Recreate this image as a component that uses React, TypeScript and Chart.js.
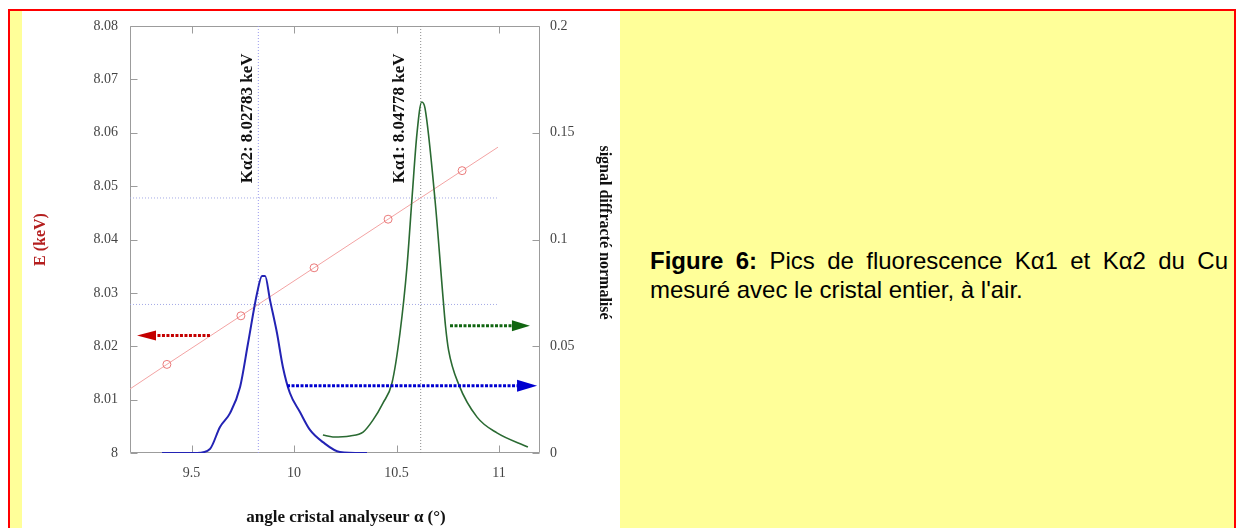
import { useEffect, useRef } from 'react';
import { Chart, registerables } from 'chart.js';

Chart.register(...registerables);

const SERIF = '"Liberation Serif", "Times New Roman", serif';
const SANS = '"Liberation Sans", Arial, sans-serif';

// Axis ticks
const X_TICKS = [9.5, 10, 10.5, 11];
const X_TICK_LABELS = ['9.5', '10', '10.5', '11'];
const E_TICKS = [8, 8.01, 8.02, 8.03, 8.04, 8.05, 8.06, 8.07, 8.08];
const E_TICK_LABELS = ['8', '8.01', '8.02', '8.03', '8.04', '8.05', '8.06', '8.07', '8.08'];
const S_TICKS = [0, 0.05, 0.1, 0.15, 0.2];
const S_TICK_LABELS = ['0', '0.05', '0.1', '0.15', '0.2'];

// Kα2 peak (normalised diffracted signal vs analyser angle)
const KA2_ANGLE = [9.356, 9.527, 9.59, 9.639, 9.688, 9.737, 9.776, 9.82, 9.844, 9.859, 9.883, 9.917, 9.946, 9.98, 10.029, 10.078, 10.141, 10.224, 10.356];
const KA2_SIGNAL = [0, 0, 0.0019, 0.0122, 0.0187, 0.0309, 0.0515, 0.0749, 0.0829, 0.0829, 0.0716, 0.0562, 0.0402, 0.0281, 0.0192, 0.0108, 0.0051, 0.0005, 0];

// Kα1 peak
const KA1_ANGLE = [10.141, 10.19, 10.273, 10.337, 10.385, 10.434, 10.478, 10.517, 10.551, 10.576, 10.6, 10.623, 10.639, 10.688, 10.728, 10.739, 10.754, 10.805, 10.893, 10.99, 11.141];
const KA1_SIGNAL = [0.0084, 0.0075, 0.008, 0.0098, 0.0154, 0.0234, 0.0328, 0.0562, 0.0871, 0.1198, 0.1498, 0.1644, 0.1615, 0.1184, 0.0716, 0.0595, 0.0482, 0.0318, 0.0168, 0.0094, 0.0028];

// Energy calibration of the analyser (line ends + measured points)
const CALIB_ANGLE = [9.2, 9.38, 9.741, 10.098, 10.459, 10.82, 10.995];
const CALIB_ENERGY = [8.012, 8.0166, 8.0257, 8.0347, 8.0438, 8.0529, 8.0573];
const CALIB_POINT_RADIUS = [0, 4, 4, 4, 4, 4, 0];

// Line positions
const KA2_LINE_ANGLE = 9.826;
const KA1_LINE_ANGLE = 10.618;
const KA2_ENERGY = 8.02783;
const KA1_ENERGY = 8.04778;
const ENERGY_LINE_SPAN = [9.2, 10.99];
const KA2_LABEL = 'Kα2: 8.02783 keV';
const KA1_LABEL = 'Kα1: 8.04778 keV';

// Axis-pointing arrows: [tail angle, head-base angle], level
const RED_ARROW_ANGLE = [9.59, 9.322];
const RED_ARROW_ENERGY = 8.022;
const BLUE_ARROW_ANGLE = [9.966, 11.093];
const BLUE_ARROW_SIGNAL = 0.0315;
const GREEN_ARROW_ANGLE = [10.761, 11.068];
const GREEN_ARROW_SIGNAL = 0.0596;

const pts = (xs: number[], ys: number[]) => xs.map((x, i) => ({ x, y: ys[i] }));
const flat = (xs: number[], y: number) => xs.map((x) => ({ x, y }));

const decorPlugin = {
  id: 'decor',
  beforeDatasetsDraw(chart: any) {
    const { ctx, chartArea: a, scales } = chart;
    ctx.save();
    const L = Math.round(a.left) + 0.5;
    const R = Math.round(a.right) - 0.5;
    const T = Math.round(a.top) + 0.5;
    const B = Math.round(a.bottom) - 0.5;
    ctx.strokeStyle = '#9c9c9c';
    ctx.lineWidth = 1;
    ctx.beginPath();
    ctx.rect(L, T, R - L, B - T);
    // inward tick marks
    const tl = 7;
    X_TICKS.forEach((v) => {
      const p = Math.round(scales.x.getPixelForValue(v)) + 0.5;
      ctx.moveTo(p, B); ctx.lineTo(p, B - tl);
      ctx.moveTo(p, T); ctx.lineTo(p, T + tl);
    });
    E_TICKS.forEach((v) => {
      const p = Math.round(scales.y.getPixelForValue(v)) + 0.5;
      ctx.moveTo(L, p); ctx.lineTo(L + tl, p);
    });
    S_TICKS.forEach((v) => {
      const p = Math.round(scales.y2.getPixelForValue(v)) + 0.5;
      ctx.moveTo(R, p); ctx.lineTo(R - tl, p);
    });
    ctx.stroke();
    ctx.restore();
  },
  afterDatasetsDraw(chart: any) {
    const { ctx, chartArea: a, scales } = chart;
    ctx.save();
    // arrow heads
    chart.data.datasets.forEach((ds: any, i: number) => {
      if (!ds.arrowHead) return;
      const meta = chart.getDatasetMeta(i).data;
      const tail = meta[0];
      const base = meta[meta.length - 1];
      const ang = Math.atan2(base.y - tail.y, base.x - tail.x);
      const { length, half } = ds.arrowHead;
      ctx.save();
      ctx.translate(base.x, base.y);
      ctx.rotate(ang);
      ctx.beginPath();
      ctx.moveTo(-1, -half);
      ctx.lineTo(length, 0);
      ctx.lineTo(-1, half);
      ctx.closePath();
      ctx.fillStyle = ds.borderColor;
      ctx.fill();
      ctx.restore();
    });

    // peak labels
    ctx.fillStyle = '#111';
    ctx.font = `bold 17px ${SERIF}`;
    ctx.textAlign = 'center';
    ctx.textBaseline = 'middle';
    const labelY = scales.y.getPixelForValue(8.0627);
    [[KA2_LINE_ANGLE, -11, KA2_LABEL], [KA1_LINE_ANGLE, -21, KA1_LABEL]].forEach(([v, off, txt]: any) => {
      ctx.save();
      ctx.translate(scales.x.getPixelForValue(v) + off, labelY);
      ctx.rotate(-Math.PI / 2);
      ctx.fillText(txt, 0, 0);
      ctx.restore();
    });

    // axis titles
    const cy = (a.top + a.bottom) / 2;
    ctx.save();
    ctx.font = `bold 16px ${SERIF}`;
    ctx.fillStyle = '#b41e1e';
    ctx.translate(a.left - 89, cy);
    ctx.rotate(-Math.PI / 2);
    ctx.fillText('E (keV)', 0, 0);
    ctx.restore();

    ctx.save();
    ctx.font = `bold 16px ${SERIF}`;
    ctx.fillStyle = '#111';
    ctx.translate(a.right + 64, cy - 7);
    ctx.rotate(Math.PI / 2);
    ctx.fillText('signal diffracté normalisé', 0, 0);
    ctx.restore();

    ctx.font = `bold 17px ${SERIF}`;
    ctx.fillStyle = '#111';
    ctx.fillText('angle cristal analyseur α (°)', (a.left + a.right) / 2 + 11, a.bottom + 65);
    ctx.restore();
  },
};

const tickFont = { family: SERIF, size: 14 };
const tickColor = '#444';

// the plot frame is placed exactly; label overhang is allowed into the margins
const fixVertical = (width: number) => (s: any) => {
  s.width = width;
  s.paddingTop = 0;
  s.paddingBottom = 0;
};

export default function App() {
  const ref = useRef<HTMLCanvasElement>(null);

  useEffect(() => {
    const chart = new Chart(ref.current!, {
      type: 'line',
      data: {
        datasets: [
          {
            data: flat(RED_ARROW_ANGLE, RED_ARROW_ENERGY),
            yAxisID: 'y',
            borderColor: '#c40000',
            borderWidth: 3,
            borderDash: [3, 1.5],
            pointRadius: 0,
            arrowHead: { length: 18, half: 5 },
          } as any,
          {
            data: flat(BLUE_ARROW_ANGLE, BLUE_ARROW_SIGNAL),
            yAxisID: 'y2',
            borderColor: '#0000d0',
            borderWidth: 3,
            borderDash: [3, 1.5],
            pointRadius: 0,
            arrowHead: { length: 19, half: 6 },
          } as any,
          {
            data: flat(GREEN_ARROW_ANGLE, GREEN_ARROW_SIGNAL),
            yAxisID: 'y2',
            borderColor: '#116611',
            borderWidth: 3,
            borderDash: [3, 1.5],
            pointRadius: 0,
            arrowHead: { length: 17, half: 5.5 },
          } as any,
          {
            data: pts(KA2_ANGLE, KA2_SIGNAL),
            yAxisID: 'y2',
            borderColor: '#2323b4',
            borderWidth: 2,
            pointRadius: 0,
            cubicInterpolationMode: 'monotone',
          },
          {
            data: pts(KA1_ANGLE, KA1_SIGNAL),
            yAxisID: 'y2',
            borderColor: '#2a6a32',
            borderWidth: 1.6,
            pointRadius: 0,
            cubicInterpolationMode: 'monotone',
          },
          {
            data: pts(CALIB_ANGLE, CALIB_ENERGY),
            yAxisID: 'y',
            borderColor: '#f3a3a3',
            borderWidth: 1,
            pointRadius: CALIB_POINT_RADIUS,
            pointStyle: 'circle',
            pointBorderColor: '#ea7a7a',
            pointBorderWidth: 1,
            pointBackgroundColor: 'rgba(255,255,255,0)',
          },
          {
            data: flat(ENERGY_LINE_SPAN, KA2_ENERGY),
            yAxisID: 'y',
            borderColor: '#a4aae6',
            borderWidth: 1,
            borderDash: [1, 2],
            pointRadius: 0,
          },
          {
            data: flat(ENERGY_LINE_SPAN, KA1_ENERGY),
            yAxisID: 'y',
            borderColor: '#a4aae6',
            borderWidth: 1,
            borderDash: [1, 2],
            pointRadius: 0,
          },
          {
            data: [{ x: KA2_LINE_ANGLE, y: 8 }, { x: KA2_LINE_ANGLE, y: 8.08 }],
            yAxisID: 'y',
            borderColor: '#9a9aee',
            borderWidth: 1,
            borderDash: [1, 2],
            pointRadius: 0,
          },
          {
            data: [{ x: KA1_LINE_ANGLE, y: 8 }, { x: KA1_LINE_ANGLE, y: 8.08 }],
            yAxisID: 'y',
            borderColor: '#8c8c8c',
            borderWidth: 1,
            borderDash: [1, 2],
            pointRadius: 0,
          },
        ],
      },
      options: {
        responsive: false,
        maintainAspectRatio: false,
        animation: false,
        layout: { padding: { top: 15, left: 0, right: 0, bottom: 0 } },
        plugins: { legend: { display: false }, tooltip: { enabled: false } },
        elements: { line: { tension: 0 } },
        scales: {
          x: {
            type: 'linear',
            position: 'bottom',
            min: 9.2,
            max: 11.2,
            grid: { display: false, drawTicks: false },
            border: { display: false },
            afterBuildTicks: (s: any) => { s.ticks = X_TICKS.map((value) => ({ value })); },
            afterFit: (s: any) => { s.height = 75; s.paddingLeft = 0; s.paddingRight = 0; },
            ticks: {
              font: tickFont,
              color: tickColor,
              padding: 12,
              maxRotation: 0,
              autoSkip: false,
              callback: (_v: any, i: number) => X_TICK_LABELS[i],
            },
          },
          y: {
            type: 'linear',
            position: 'left',
            min: 8,
            max: 8.08,
            grid: { display: false, drawTicks: false },
            border: { display: false },
            afterBuildTicks: (s: any) => { s.ticks = E_TICKS.map((value) => ({ value })); },
            afterFit: fixVertical(108),
            ticks: {
              font: tickFont,
              color: tickColor,
              padding: 12,
              autoSkip: false,
              callback: (_v: any, i: number) => E_TICK_LABELS[i],
            },
          },
          y2: {
            type: 'linear',
            position: 'right',
            min: 0,
            max: 0.2,
            grid: { display: false, drawTicks: false },
            border: { display: false },
            afterBuildTicks: (s: any) => { s.ticks = S_TICKS.map((value) => ({ value })); },
            afterFit: fixVertical(80),
            ticks: {
              font: tickFont,
              color: tickColor,
              padding: 10,
              autoSkip: false,
              callback: (_v: any, i: number) => S_TICK_LABELS[i],
            },
          },
        },
      },
      plugins: [decorPlugin],
    } as any);
    return () => chart.destroy();
  }, []);

  return (
    <div style={{ position: 'absolute', left: 0, top: 0, width: 1236, height: 528, overflow: 'hidden', background: '#fff' }}>
      <div
        style={{
          position: 'absolute',
          left: 8,
          top: 9,
          width: 1236 - 8,
          height: 540,
          boxSizing: 'border-box',
          borderTop: '2px solid #ff0000',
          borderLeft: '2px solid #ff0000',
          borderRight: '2px solid #ff0000',
          background: '#ffff99',
        }}
      />
      <div style={{ position: 'absolute', left: 22, top: 11, width: 598, height: 517, background: '#fff' }}>
        <canvas ref={ref} width={598} height={517} style={{ display: 'block' }} />
      </div>
      <div
        style={{
          position: 'absolute',
          left: 650,
          top: 246,
          width: 578,
          fontFamily: SANS,
          fontSize: 24,
          lineHeight: '29px',
          color: '#000',
        }}
      >
        <div style={{ textAlign: 'justify', textAlignLast: 'justify', whiteSpace: 'nowrap' }}>
          <b>Figure 6:</b> Pics de fluorescence Kα1 et Kα2 du Cu
        </div>
        <div style={{ whiteSpace: 'nowrap' }}>mesuré avec le cristal entier, à l'air.</div>
      </div>
    </div>
  );
}
